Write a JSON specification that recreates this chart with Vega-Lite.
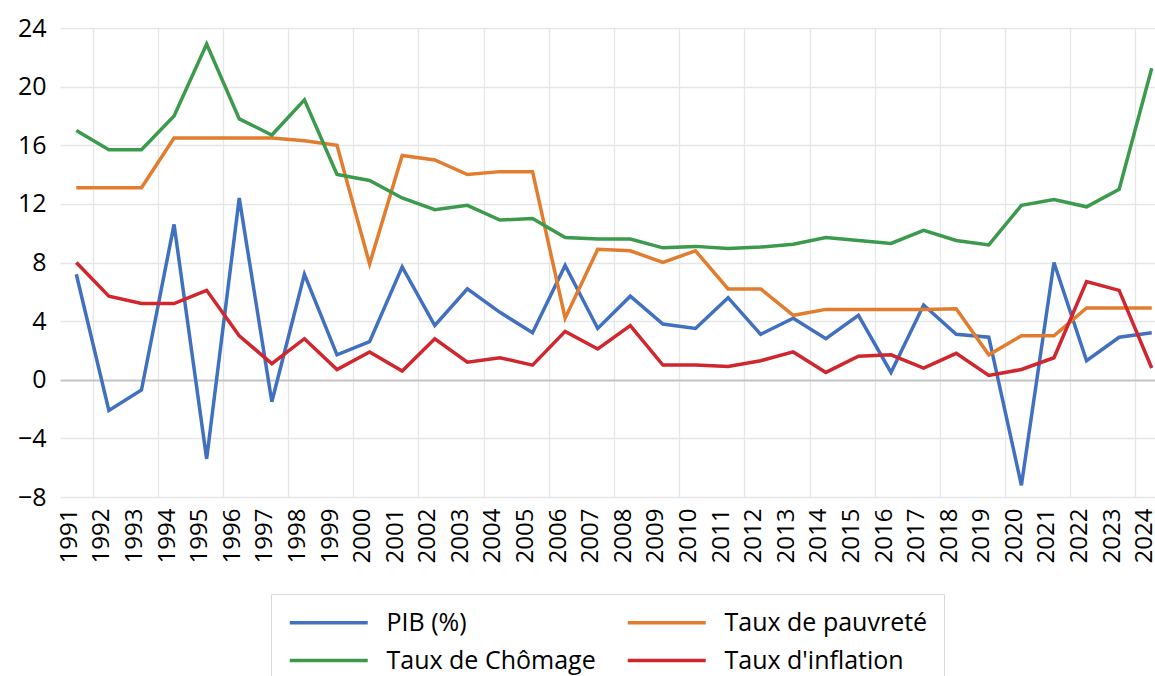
{
  "$schema": "https://vega.github.io/schema/vega-lite/v6.json",
  "width": 1095,
  "height": 469,
  "autosize": {"type": "none"},
  "padding": {"left": 60, "top": 28, "right": 0, "bottom": 179},
  "background": "white",
  "config": {
    "view": {"stroke": null},
    "font": "Open Sans",
    "axis": {"labelFont": "Open Sans", "labelColor": "#000000"}
  },
  "data": {
    "values": [
      {"year": 1991, "pib": 7.2, "pauvrete": 13.1, "chomage": 17.0, "inflation": 8.0},
      {"year": 1992, "pib": -2.1, "pauvrete": 13.1, "chomage": 15.7, "inflation": 5.7},
      {"year": 1993, "pib": -0.7, "pauvrete": 13.1, "chomage": 15.7, "inflation": 5.2},
      {"year": 1994, "pib": 10.6, "pauvrete": 16.5, "chomage": 18.0, "inflation": 5.2},
      {"year": 1995, "pib": -5.4, "pauvrete": 16.5, "chomage": 22.9, "inflation": 6.1},
      {"year": 1996, "pib": 12.4, "pauvrete": 16.5, "chomage": 17.8, "inflation": 3.0},
      {"year": 1997, "pib": -1.5, "pauvrete": 16.5, "chomage": 16.7, "inflation": 1.1},
      {"year": 1998, "pib": 7.2, "pauvrete": 16.3, "chomage": 19.1, "inflation": 2.8},
      {"year": 1999, "pib": 1.7, "pauvrete": 16.0, "chomage": 14.0, "inflation": 0.7},
      {"year": 2000, "pib": 2.6, "pauvrete": 7.9, "chomage": 13.6, "inflation": 1.9},
      {"year": 2001, "pib": 7.7, "pauvrete": 15.3, "chomage": 12.4, "inflation": 0.6},
      {"year": 2002, "pib": 3.7, "pauvrete": 15.0, "chomage": 11.6, "inflation": 2.8},
      {"year": 2003, "pib": 6.2, "pauvrete": 14.0, "chomage": 11.9, "inflation": 1.2},
      {"year": 2004, "pib": 4.6, "pauvrete": 14.2, "chomage": 10.9, "inflation": 1.5},
      {"year": 2005, "pib": 3.2, "pauvrete": 14.2, "chomage": 11.0, "inflation": 1.0},
      {"year": 2006, "pib": 7.8, "pauvrete": 4.2, "chomage": 9.7, "inflation": 3.3},
      {"year": 2007, "pib": 3.5, "pauvrete": 8.9, "chomage": 9.6, "inflation": 2.1},
      {"year": 2008, "pib": 5.7, "pauvrete": 8.8, "chomage": 9.6, "inflation": 3.7},
      {"year": 2009, "pib": 3.8, "pauvrete": 8.0, "chomage": 9.0, "inflation": 1.0},
      {"year": 2010, "pib": 3.5, "pauvrete": 8.8, "chomage": 9.1, "inflation": 1.0},
      {"year": 2011, "pib": 5.6, "pauvrete": 6.2, "chomage": 8.95, "inflation": 0.9},
      {"year": 2012, "pib": 3.1, "pauvrete": 6.2, "chomage": 9.05, "inflation": 1.3},
      {"year": 2013, "pib": 4.2, "pauvrete": 4.4, "chomage": 9.25, "inflation": 1.9},
      {"year": 2014, "pib": 2.8, "pauvrete": 4.8, "chomage": 9.7, "inflation": 0.5},
      {"year": 2015, "pib": 4.4, "pauvrete": 4.8, "chomage": 9.5, "inflation": 1.6},
      {"year": 2016, "pib": 0.5, "pauvrete": 4.8, "chomage": 9.3, "inflation": 1.7},
      {"year": 2017, "pib": 5.1, "pauvrete": 4.8, "chomage": 10.2, "inflation": 0.8},
      {"year": 2018, "pib": 3.1, "pauvrete": 4.85, "chomage": 9.5, "inflation": 1.8},
      {"year": 2019, "pib": 2.9, "pauvrete": 1.7, "chomage": 9.2, "inflation": 0.3},
      {"year": 2020, "pib": -7.2, "pauvrete": 3.0, "chomage": 11.9, "inflation": 0.7},
      {"year": 2021, "pib": 8.0, "pauvrete": 3.0, "chomage": 12.3, "inflation": 1.5},
      {"year": 2022, "pib": 1.3, "pauvrete": 4.9, "chomage": 11.8, "inflation": 6.7},
      {"year": 2023, "pib": 2.9, "pauvrete": 4.9, "chomage": 13.0, "inflation": 6.1},
      {"year": 2024, "pib": 3.2, "pauvrete": 4.9, "chomage": 21.25, "inflation": 0.8}
    ]
  },
  "transform": [
    {"fold": ["pib", "pauvrete", "chomage", "inflation"], "as": ["series", "value"]}
  ],
  "layer": [
    {
      "mark": {"type": "line", "strokeWidth": 3.5},
      "encoding": {
        "x": {
          "field": "year",
          "type": "quantitative",
          "scale": {"domain": [1990.5, 2024.1], "nice": false, "zero": false},
          "axis": {
            "orient": "bottom",
            "values": [1991.5, 1993.5, 1995.5, 1997.5, 1999.5, 2001.5, 2003.5, 2005.5, 2007.5, 2009.5, 2011.5, 2013.5, 2015.5, 2017.5, 2019.5, 2021.5, 2023.5],
            "labels": false,
            "ticks": false,
            "domain": false,
            "grid": true,
            "gridColor": "#e6e6e6",
            "gridWidth": 1.3,
            "title": null
          }
        },
        "y": {
          "field": "value",
          "type": "quantitative",
          "scale": {"domain": [-8, 24], "nice": false, "zero": false},
          "axis": {
            "values": [-8, -4, 0, 4, 8, 12, 16, 20, 24],
            "title": null,
            "ticks": false,
            "domain": false,
            "labelFontSize": 25,
            "labelPadding": 14,
            "grid": true,
            "gridColor": {"condition": {"test": "datum.value === 0", "value": "#c4c4c4"}, "value": "#e6e6e6"},
            "gridWidth": {"condition": {"test": "datum.value === 0", "value": 2}, "value": 1.3}
          }
        },
        "color": {
          "field": "series",
          "type": "nominal",
          "scale": {
            "domain": ["pib", "pauvrete", "chomage", "inflation"],
            "range": ["#4070BF", "#E27C2E", "#3B9A4C", "#D0262E"]
          },
          "legend": {
            "orient": "none",
            "direction": "horizontal",
            "legendX": 211,
            "legendY": 566,
            "columns": 2,
            "title": null,
            "symbolType": "M-4,0H4",
            "symbolSize": 380,
            "symbolOffset": 29.25,
            "symbolStrokeWidth": 3.5,
            "labelFont": "Open Sans",
            "labelFontSize": 25,
            "labelColor": "#000000",
            "labelOffset": 45.25,
            "labelLimit": 400,
            "columnPadding": 24,
            "rowPadding": 12,
            "padding": 16,
            "strokeColor": "#d9d9d9",
            "fillColor": "white",
            "labelExpr": "datum.label == 'pib' ? 'PIB (%)' : datum.label == 'pauvrete' ? 'Taux de pauvreté' : datum.label == 'chomage' ? 'Taux de Chômage' : \"Taux d'inflation\""
          }
        }
      }
    },
    {
      "mark": {"type": "line", "opacity": 0},
      "encoding": {
        "x": {
          "field": "year",
          "type": "quantitative",
          "scale": {"domain": [1990.5, 2024.1], "nice": false, "zero": false},
          "axis": {
            "orient": "bottom",
            "values": [1991, 1992, 1993, 1994, 1995, 1996, 1997, 1998, 1999, 2000, 2001, 2002, 2003, 2004, 2005, 2006, 2007, 2008, 2009, 2010, 2011, 2012, 2013, 2014, 2015, 2016, 2017, 2018, 2019, 2020, 2021, 2022, 2023, 2024],
            "format": "d",
            "labelAngle": -90,
            "labelFontSize": 24,
            "labelPadding": 11,
            "labelOffset": -7,
            "labelOverlap": false,
            "labelFlush": false,
            "labelBound": false,
            "ticks": false,
            "domain": false,
            "grid": false,
            "title": null
          }
        },
        "y": {
          "field": "value",
          "type": "quantitative",
          "scale": {"domain": [-8, 24], "nice": false, "zero": false},
          "axis": {
            "values": [-8, -4, 0, 4, 8, 12, 16, 20, 24],
            "title": null,
            "ticks": false,
            "domain": false,
            "labelFontSize": 25,
            "labelPadding": 14,
            "grid": true,
            "gridColor": {"condition": {"test": "datum.value === 0", "value": "#c4c4c4"}, "value": "#e6e6e6"},
            "gridWidth": {"condition": {"test": "datum.value === 0", "value": 2}, "value": 1.3}
          }
        },
        "detail": {"field": "series", "type": "nominal"}
      }
    }
  ],
  "resolve": {"axis": {"x": "independent"}}
}
